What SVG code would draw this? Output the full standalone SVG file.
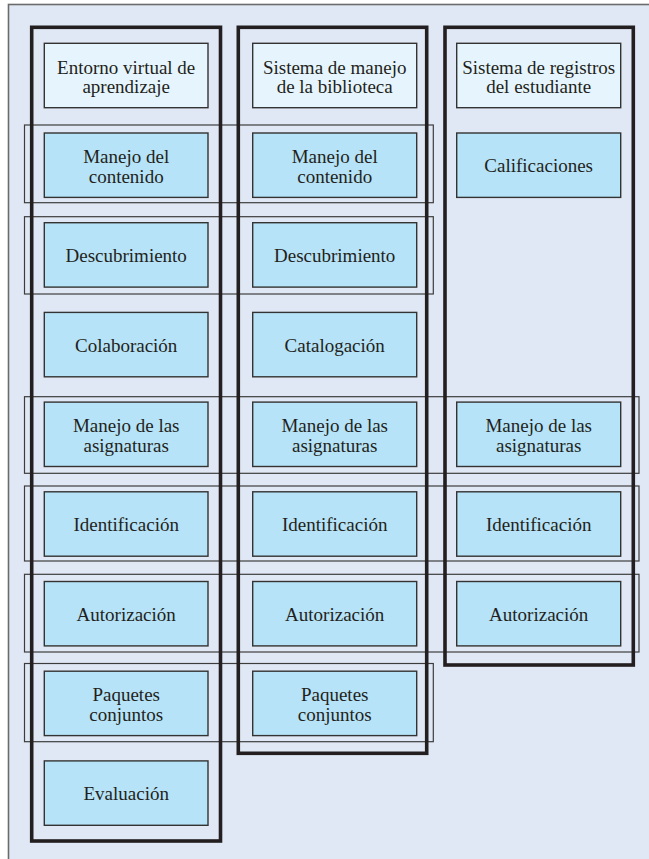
<svg xmlns="http://www.w3.org/2000/svg" width="649" height="859" viewBox="0 0 649 859">
<style>
.frame{fill:#e1e8f5;stroke:#6b6b6b;stroke-width:1.6}
.grp{fill:none;stroke:#3c3c3c;stroke-width:1.2}
.col{fill:none;stroke:#231f20;stroke-width:3.6}
.hdr{fill:#e6f5fd;stroke:#333;stroke-width:1.4}
.box{fill:#b6e3f7;stroke:#333;stroke-width:1.4}
.t{font-size:19px;fill:#231f20;text-anchor:middle}
</style>
<rect width="649" height="859" fill="#ffffff"/>
<rect class="frame" x="8.5" y="4.5" width="700" height="900"/>
<g id="connectors">
<rect class="grp" x="24.5" y="125" width="408.8" height="77.7"/>
<rect class="grp" x="24.5" y="216.7" width="408.8" height="77.3"/>
<rect class="grp" x="24.5" y="396.7" width="614.5" height="76.6"/>
<rect class="grp" x="24.5" y="486" width="614.5" height="75"/>
<rect class="grp" x="24.5" y="574.3" width="614.5" height="77.7"/>
<rect class="grp" x="24.5" y="663.5" width="408.8" height="78.2"/>
<rect class="col" x="31.7" y="27.3" width="188.8" height="813.7"/>
<rect class="col" x="238.3" y="27.3" width="188.4" height="726"/>
<rect class="col" x="445" y="27.3" width="188.3" height="637.7"/>
</g>
<g font-family="'Liberation Serif', 'DejaVu Serif', 'Times New Roman', serif">
<g id="c1-header"><rect class="hdr" x="44.3" y="43.3" width="163.7" height="64.4"/><text class="t" x="126.2" y="73.5">Entorno virtual de</text><text class="t" x="126.2" y="93">aprendizaje</text></g>
<g id="c1-contenido"><rect class="box" x="44.3" y="133" width="163.7" height="64.4"/><text class="t" x="126.2" y="163.2">Manejo del</text><text class="t" x="126.2" y="182.7">contenido</text></g>
<g id="c1-descubrimiento"><rect class="box" x="44.3" y="222.7" width="163.7" height="64.4"/><text class="t" x="126.2" y="261.9">Descubrimiento</text></g>
<g id="c1-colaboracion"><rect class="box" x="44.3" y="312.4" width="163.7" height="64.4"/><text class="t" x="126.2" y="351.6">Colaboración</text></g>
<g id="c1-asignaturas"><rect class="box" x="44.3" y="402.1" width="163.7" height="64.4"/><text class="t" x="126.2" y="432.3">Manejo de las</text><text class="t" x="126.2" y="451.8">asignaturas</text></g>
<g id="c1-identificacion"><rect class="box" x="44.3" y="491.8" width="163.7" height="64.4"/><text class="t" x="126.2" y="531">Identificación</text></g>
<g id="c1-autorizacion"><rect class="box" x="44.3" y="581.5" width="163.7" height="64.4"/><text class="t" x="126.2" y="620.7">Autorización</text></g>
<g id="c1-paquetes"><rect class="box" x="44.3" y="671.2" width="163.7" height="64.4"/><text class="t" x="126.2" y="701.4">Paquetes</text><text class="t" x="126.2" y="720.9">conjuntos</text></g>
<g id="c1-evaluacion"><rect class="box" x="44.3" y="760.9" width="163.7" height="64.4"/><text class="t" x="126.2" y="800.1">Evaluación</text></g>
<g id="c2-header"><rect class="hdr" x="252.7" y="43.3" width="164" height="64.4"/><text class="t" x="334.7" y="73.5">Sistema de manejo</text><text class="t" x="334.7" y="93">de la biblioteca</text></g>
<g id="c2-contenido"><rect class="box" x="252.7" y="133" width="164" height="64.4"/><text class="t" x="334.7" y="163.2">Manejo del</text><text class="t" x="334.7" y="182.7">contenido</text></g>
<g id="c2-descubrimiento"><rect class="box" x="252.7" y="222.7" width="164" height="64.4"/><text class="t" x="334.7" y="261.9">Descubrimiento</text></g>
<g id="c2-catalogacion"><rect class="box" x="252.7" y="312.4" width="164" height="64.4"/><text class="t" x="334.7" y="351.6">Catalogación</text></g>
<g id="c2-asignaturas"><rect class="box" x="252.7" y="402.1" width="164" height="64.4"/><text class="t" x="334.7" y="432.3">Manejo de las</text><text class="t" x="334.7" y="451.8">asignaturas</text></g>
<g id="c2-identificacion"><rect class="box" x="252.7" y="491.8" width="164" height="64.4"/><text class="t" x="334.7" y="531">Identificación</text></g>
<g id="c2-autorizacion"><rect class="box" x="252.7" y="581.5" width="164" height="64.4"/><text class="t" x="334.7" y="620.7">Autorización</text></g>
<g id="c2-paquetes"><rect class="box" x="252.7" y="671.2" width="164" height="64.4"/><text class="t" x="334.7" y="701.4">Paquetes</text><text class="t" x="334.7" y="720.9">conjuntos</text></g>
<g id="c3-header"><rect class="hdr" x="456.7" y="43.3" width="164" height="64.4"/><text class="t" x="538.7" y="73.5">Sistema de registros</text><text class="t" x="538.7" y="93">del estudiante</text></g>
<g id="c3-calificaciones"><rect class="box" x="456.7" y="133" width="164" height="64.4"/><text class="t" x="538.7" y="172.2">Calificaciones</text></g>
<g id="c3-asignaturas"><rect class="box" x="456.7" y="402.1" width="164" height="64.4"/><text class="t" x="538.7" y="432.3">Manejo de las</text><text class="t" x="538.7" y="451.8">asignaturas</text></g>
<g id="c3-identificacion"><rect class="box" x="456.7" y="491.8" width="164" height="64.4"/><text class="t" x="538.7" y="531">Identificación</text></g>
<g id="c3-autorizacion"><rect class="box" x="456.7" y="581.5" width="164" height="64.4"/><text class="t" x="538.7" y="620.7">Autorización</text></g>
</g>
</svg>
